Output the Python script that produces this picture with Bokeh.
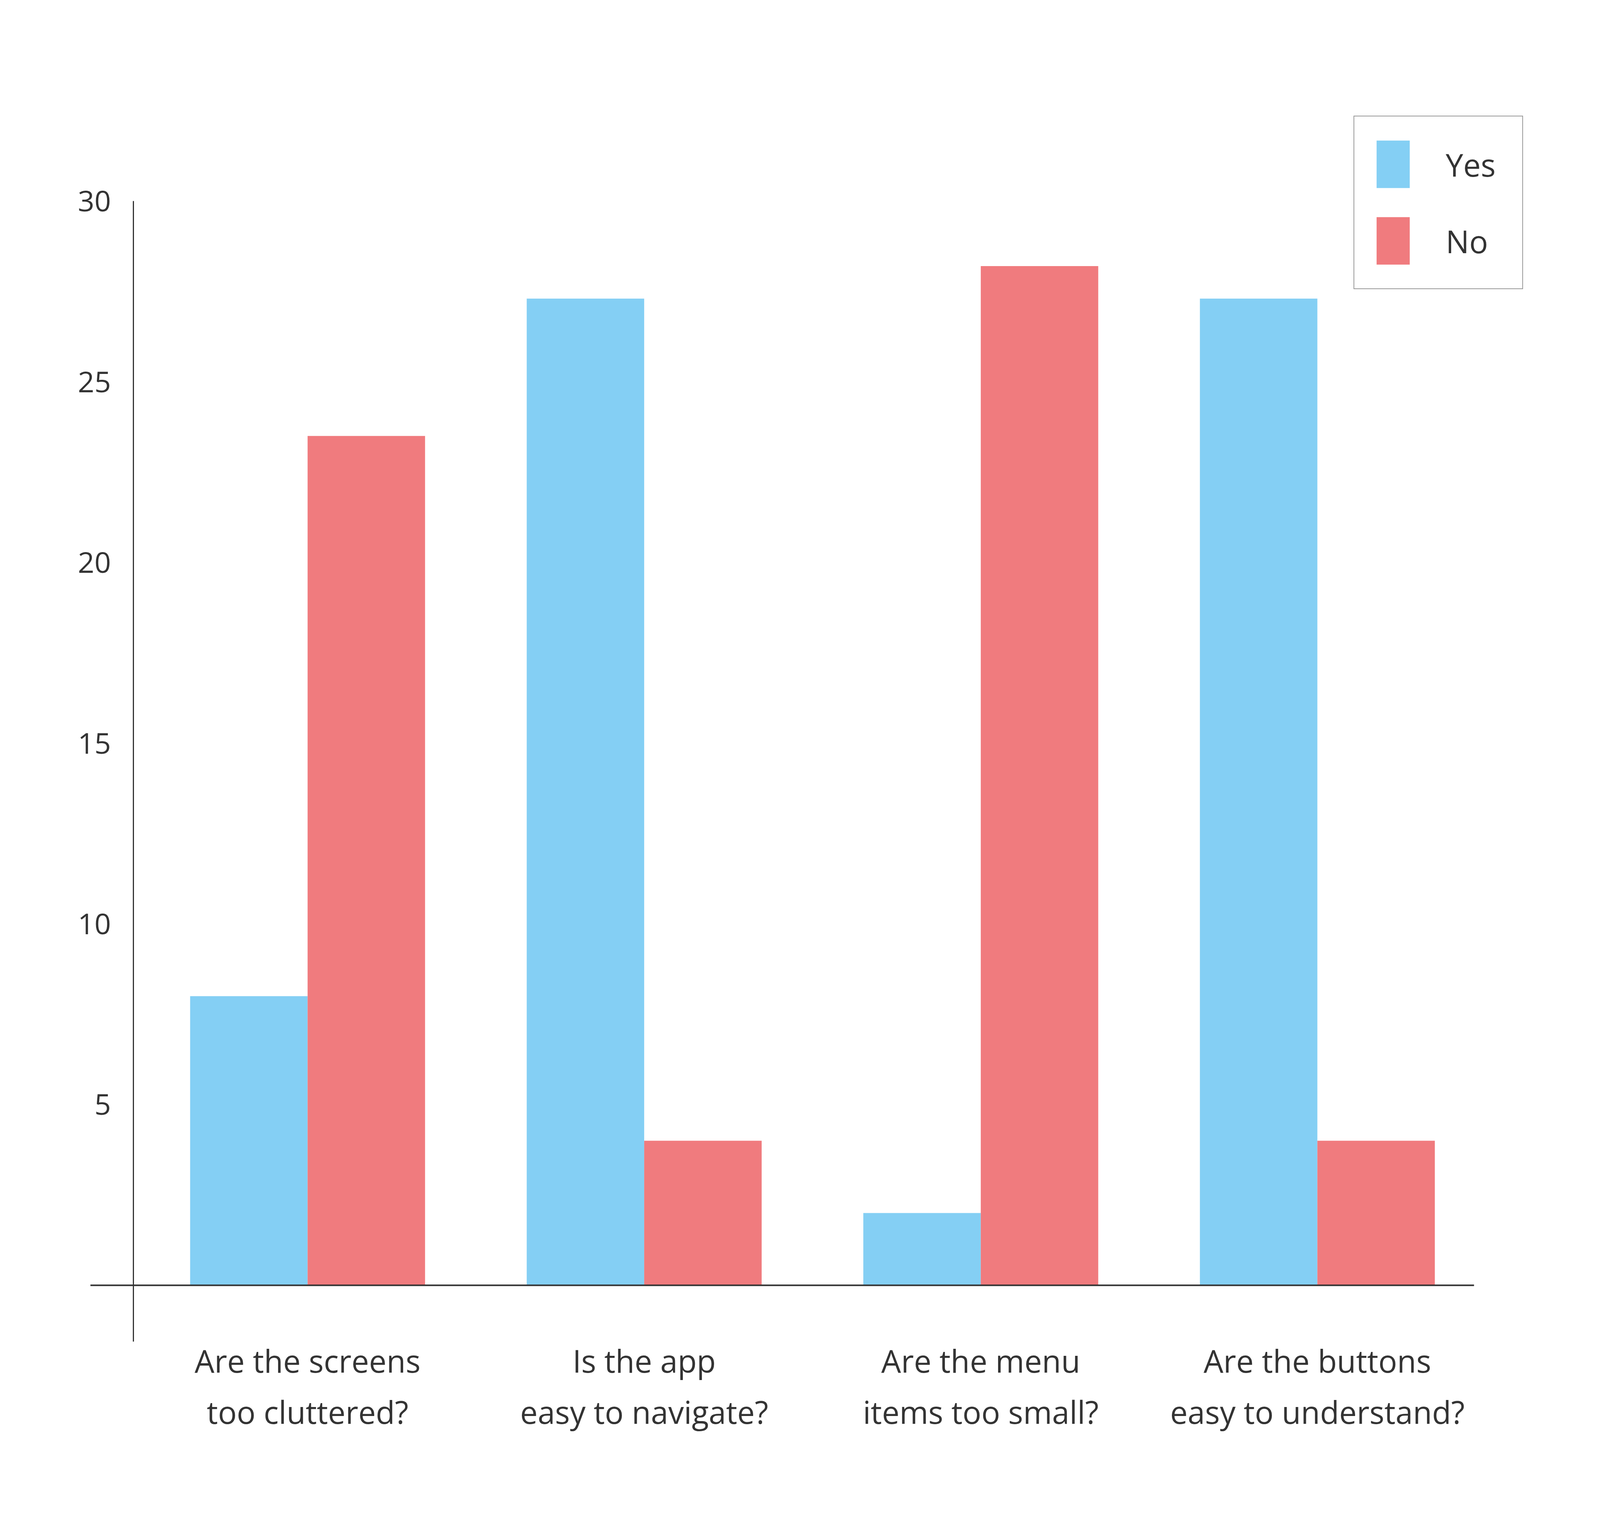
from bokeh.plotting import figure
from bokeh.models import Range1d, FixedTicker, ColumnDataSource
from bokeh.transform import dodge
from bokeh.embed import file_html
from bokeh.resources import INLINE

# ---- data -------------------------------------------------------------
questions = [
    "Are the screens\ntoo cluttered?",
    "Is the app\neasy to navigate?",
    "Are the menu\nitems too small?",
    "Are the buttons\neasy to understand?",
]
yes_counts = [8, 27.3, 2, 27.3]
no_counts = [23.5, 4, 28.2, 4]
y_ticks = [5, 10, 15, 20, 25, 30]
series = ["Yes", "No"]
colors = ["#84CFF4", "#F07B7E"]

# ---- styling ----------------------------------------------------------
FONT = "Open Sans"
TXT = "#333333"
AXIS = "#333333"
W, H = 4078, 3908   # visible page area is about 4096 x 3926

idx = list(range(len(questions)))
src = ColumnDataSource(dict(x=idx, yes=yes_counts, no=no_counts))

# the frame fills the whole figure; the axes are pinned inside it
p = figure(width=W, height=H, output_backend="svg", toolbar_location=None,
           title=None,
           x_range=Range1d(-0.9133, 3.8194), y_range=Range1d(-6.692, 35.557),
           min_border=0, min_border_left=0, min_border_right=0,
           min_border_top=0, min_border_bottom=0)
p.background_fill_color = "white"
p.border_fill_color = "white"
p.outline_line_color = None
p.xgrid.visible = False
p.ygrid.visible = False

bw = 0.349
p.vbar(x=dodge("x", -bw / 2, range=p.x_range), top="yes", width=bw, source=src,
       fill_color=colors[0], line_color=None, legend_label=series[0])
p.vbar(x=dodge("x", bw / 2, range=p.x_range), top="no", width=bw, source=src,
       fill_color=colors[1], line_color=None, legend_label=series[1])

xa = p.xaxis[0]
xa.fixed_location = 0
xa.bounds = (-0.645, 3.465)
xa.ticker = FixedTicker(ticks=idx)
xa.major_label_overrides = {i: q for i, q in enumerate(questions)}
xa.axis_line_color = AXIS
xa.axis_line_width = 4
xa.major_tick_line_color = None
xa.minor_tick_line_color = None
xa.major_tick_out = 0
xa.major_tick_in = 0
xa.major_label_standoff = 138
xa.major_label_text_font = FONT
xa.major_label_text_font_size = "80px"
xa.major_label_text_color = TXT

ya = p.yaxis[0]
ya.fixed_location = -0.517
ya.bounds = (-1.557, 30)
ya.ticker = FixedTicker(ticks=y_ticks)
ya.axis_line_color = AXIS
ya.axis_line_width = 3
ya.major_tick_line_color = None
ya.minor_tick_line_color = None
ya.major_tick_out = 0
ya.major_tick_in = 0
ya.major_label_standoff = 58
ya.major_label_text_font = FONT
ya.major_label_text_font_size = "74px"
ya.major_label_text_color = TXT

lg = p.legend[0]
lg.location = (3465, 3168)
lg.orientation = "vertical"
lg.glyph_width = 106
lg.glyph_height = 152
lg.label_standoff = 82
lg.label_width = 150
lg.label_height = 152
lg.spacing = 44
lg.padding = 46
lg.margin = 0
lg.label_text_font = FONT
lg.label_text_font_size = "80px"
lg.label_text_color = TXT
lg.border_line_color = AXIS
lg.border_line_width = 2
lg.background_fill_color = "white"
lg.background_fill_alpha = 1.0

open("out.html", "w").write(file_html(p, INLINE))
